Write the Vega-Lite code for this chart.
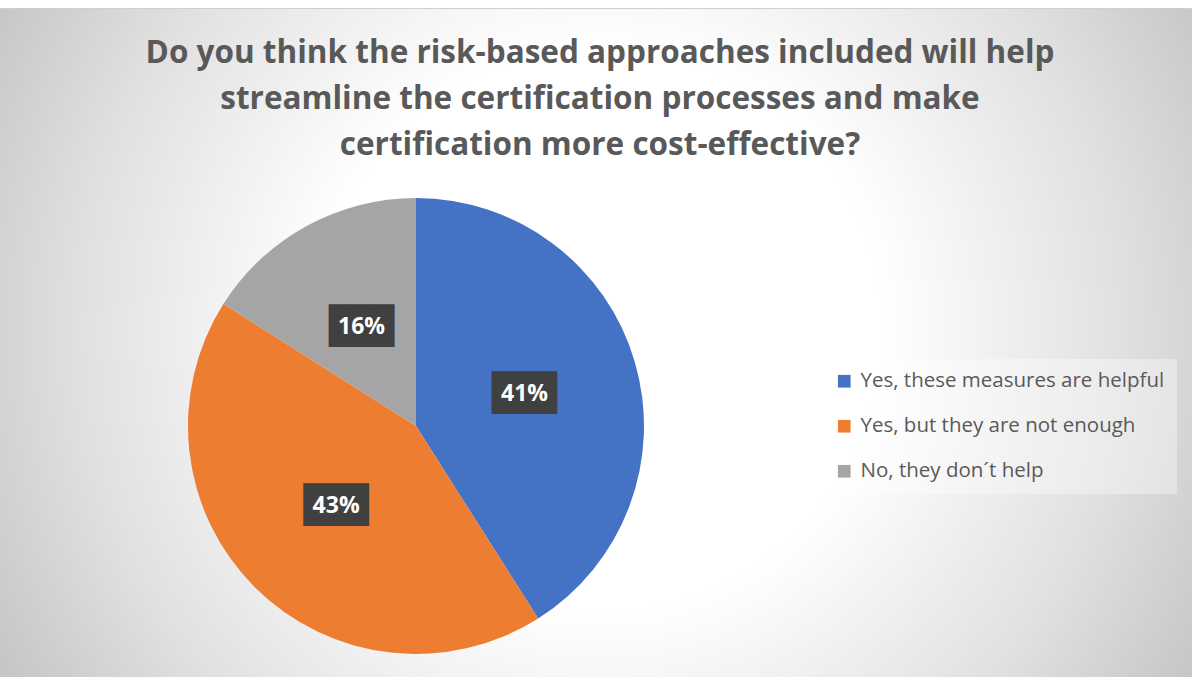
{
  "$schema": "https://vega.github.io/schema/vega-lite/v6.json",
  "width": 1552,
  "height": 836,
  "autosize": {"type": "none"},
  "padding": {"left": -360, "top": 8, "right": 0, "bottom": -167},
  "background": "#ffffff",
  "view": {
    "fill": {"expr": "{gradient: 'radial', x1: 0.6186, y1: 0.438, r1: 0, x2: 0.6186, y2: 0.438, r2: 0.45, stops: [{offset: 0, color: '#ffffff'}, {offset: 0.4, color: '#ffffff'}, {offset: 0.75, color: '#e0e0e0'}, {offset: 1, color: '#c4c4c4'}]}"},
    "stroke": "#cfcfcf"
  },
  "title": {
    "text": ["Do you think the risk-based approaches included will help", "streamline the certification processes and make", "certification more cost-effective?"],
    "anchor": "middle",
    "frame": "group",
    "dx": 184,
    "offset": -153,
    "font": "Open Sans",
    "fontSize": 31.5,
    "fontWeight": "bold",
    "color": "#595959",
    "lineHeight": 46
  },
  "data": {
    "values": [
      {"answer": "Yes, these measures are helpful", "value": 41, "label": "41%"},
      {"answer": "Yes, but they are not enough", "value": 43, "label": "43%"},
      {"answer": "No, they don´t help", "value": 16, "label": "16%"}
    ]
  },
  "encoding": {
    "theta": {"field": "value", "type": "quantitative", "stack": true},
    "order": {"field": "answer", "type": "ordinal", "sort": "descending"}
  },
  "layer": [
    {
      "mark": {"type": "arc", "radius": 228},
      "encoding": {
        "color": {
          "field": "answer",
          "type": "nominal",
          "scale": {
            "domain": ["Yes, these measures are helpful", "Yes, but they are not enough", "No, they don´t help"],
            "range": ["#4472C4", "#ED7D31", "#A5A5A5"]
          },
          "legend": {
            "title": null,
            "orient": "none",
            "legendX": 1182,
            "legendY": 351,
            "symbolType": "square",
            "symbolSize": 160,
            "symbolStrokeWidth": 0,
            "labelFont": "Open Sans",
            "labelFontSize": 20.5,
            "labelColor": "#595959",
            "labelOffset": 6,
            "labelLimit": 400,
            "rowPadding": 24,
            "padding": 12,
            "fillColor": "rgba(255,255,255,0.35)"
          }
        }
      }
    },
    {
      "mark": {"type": "text", "radius": 113, "font": "DejaVu Sans Mono", "fontSize": 36, "color": "#404040", "dy": 0, "baseline": "middle", "align": "center"},
      "encoding": {"detail": {"field": "answer"}, "text": {"value": "███"}}
    },
    {
      "mark": {"type": "text", "radius": 113, "font": "Open Sans", "fontSize": 23, "fontWeight": "bold", "color": "#ffffff", "baseline": "middle", "align": "center"},
      "encoding": {"detail": {"field": "answer"}, "text": {"field": "label"}}
    }
  ]
}
